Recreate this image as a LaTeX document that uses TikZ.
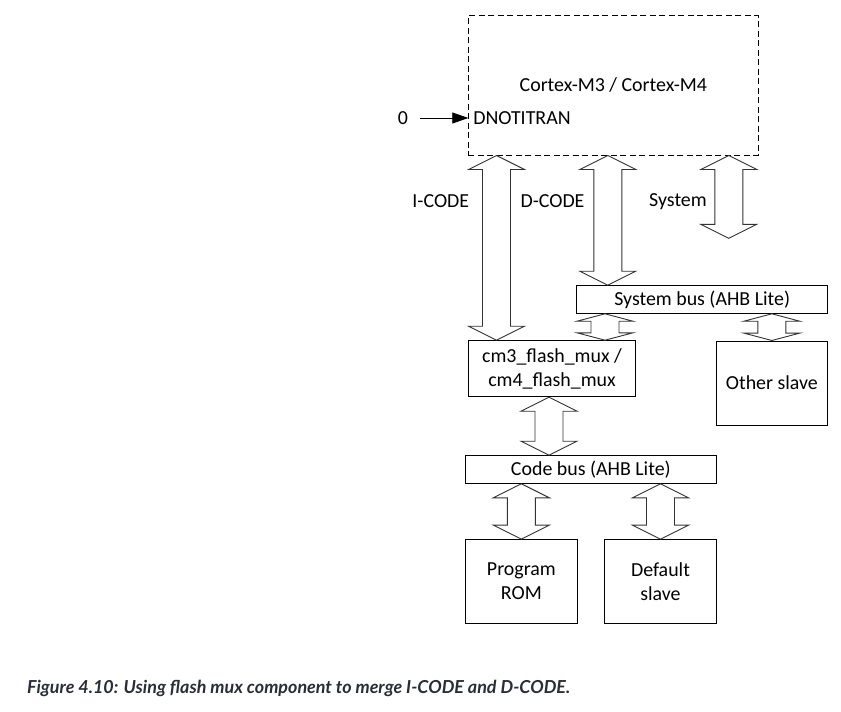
\documentclass[tikz,border=0pt]{standalone}
\usepackage{fontspec}
\setmainfont{Carlito}
\newfontfamily\capfont{Lato}
\usepackage{tikz}
\usetikzlibrary{positioning,arrows.meta,calc}
\definecolor{capcol}{RGB}{40,45,55}

\tikzset{
  blk/.style={draw, rectangle, inner sep=0pt, align=center},
  busarr/.style={draw=black!80, fill=white, line width=0.9pt, line join=miter},
}
% hollow two-headed bus arrow between two points
\newcommand{\busarrow}[3][14]{%
  \draw[busarr] let \p1=(#2), \p2=(#3) in
    (\x1,\y1) -- (\x1+28pt,\y1-#1pt) -- (\x1+14pt,\y1-#1pt) -- (\x1+14pt,\y2+#1pt)
    -- (\x1+28pt,\y2+#1pt) -- (\x1,\y2) -- (\x1-28pt,\y2+#1pt) -- (\x1-14pt,\y2+#1pt)
    -- (\x1-14pt,\y1-#1pt) -- (\x1-28pt,\y1-#1pt) -- cycle;}

\begin{document}
\begin{tikzpicture}[x=1pt, y=-1pt, font=\fontsize{19.9}{24}\selectfont, line width=1pt]
    \useasboundingbox (0,0) rectangle (841,712);
    % core
    \node[blk, dash pattern=on 6pt off 3.5pt, minimum width=290pt, minimum height=139.3pt] (cpu) at (613.3,85.35) {Cortex-M3 / Cortex-M4};
    \coordinate (dn) at (468.3,118);
    \node[right=4.5pt of dn, inner sep=0pt] (dnlab) {DNOTITRAN};
    \node[inner sep=0pt] (zero) at (403,118) {0};
    \draw[-{Triangle[length=16pt,width=11pt]}, line width=0.8pt] ([xshift=17pt]zero.center) -- (dn);

    % buses and slaves
    \node[blk, minimum width=251pt, minimum height=27.6pt] (sysbus) at (702.2,299.5) {System bus (AHB Lite)};
    \node[blk, minimum width=167.4pt, minimum height=56pt] (mux) at (552,368.7) {cm3\_flash\_mux /\\cm4\_flash\_mux};
    \node[blk, minimum width=111.7pt, minimum height=84pt] (other) at (771.85,383) {Other slave};
    \node[blk, minimum width=250.3pt, minimum height=27.6pt] (codebus) at (590.85,469.5) {Code bus (AHB Lite)};
    \node[blk, minimum width=111.3pt, minimum height=83.7pt] (rom) at (521.35,581.5) {Program\\ROM};
    \node[blk, minimum width=111.6pt, minimum height=83.7pt] (dflt) at (660.5,581.5) {Default\\slave};

    % bus labels
    \node (ic) at (440.8,201.5) {I-CODE};
    \node (dc) at (552.5,201.5) {D-CODE};
    \node (sy) at (678,201.5) {System};

    % arrows
    \coordinate (icx) at (496.5,0);
    \coordinate (dcx) at (607.8,0);
    \coordinate (sysend) at (728.8,238.3);
    \coordinate (smx) at (605,0);
    \coordinate (mcx) at (549,0);
    \busarrow{icx |- cpu.south}{icx |- mux.north}
    \busarrow{dcx |- cpu.south}{dcx |- sysbus.north}
    \busarrow{sysend |- cpu.south}{sysend}
    \busarrow[7.4]{smx |- sysbus.south}{smx |- mux.north}
    \busarrow[7.4]{other.north |- sysbus.south}{other.north}
    \busarrow{mcx |- mux.south}{mcx |- codebus.north}
    \busarrow{rom.north |- codebus.south}{rom.north}
    \busarrow{dflt.north |- codebus.south}{dflt.north}

    \node[anchor=west, inner sep=0pt, text=capcol, font=\capfont\bfseries\itshape\fontsize{17.9}{21}\selectfont] (cap) at (26.7,688) {Figure 4.10: Using flash mux component to merge I-CODE and D-CODE.};
\end{tikzpicture}
\end{document}
